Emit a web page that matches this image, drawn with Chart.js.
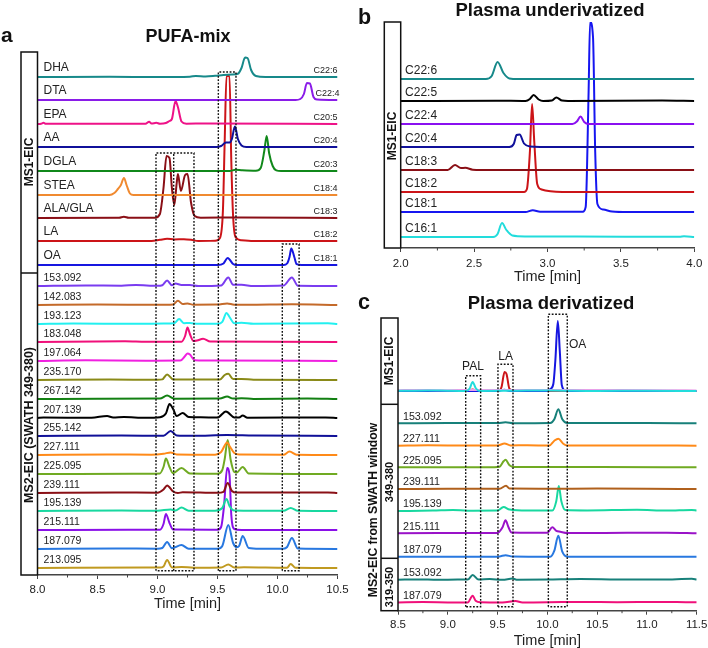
<!DOCTYPE html>
<html>
<head>
<meta charset="utf-8">
<script src="https://cdn.jsdelivr.net/npm/chart.js@4"></script>
<style>
    html, body { margin: 0; padding: 0; background: #fff; }
    #wrap { position: relative; width: 708px; height: 648px; overflow: hidden; }
    canvas { position: absolute; }
</style>
</head>
<body>
<div id="wrap">
    <canvas id="chartA" width="355" height="648" style="left:0;top:0"></canvas>
    <canvas id="chartB" width="353" height="290" style="left:355px;top:0"></canvas>
    <canvas id="chartC" width="360" height="363" style="left:355px;top:285px"></canvas>
</div>
<script>
// *************** panel a : PUFA-mix  [time, intensity]
const aDHA = [[8,0],[8.6,0.2],[9.0,0],[9.27,0.3],[9.32,1],[9.4,0.6],[9.48,1.2],[9.55,2],[9.62,2.5],[9.67,3.2],[9.7,9],[9.73,19.5],[9.75,19],[9.78,7],[9.82,1],[9.9,0],[10.5,0]];
const aDTA = [[8,0],[10.15,0],[10.19,1],[10.22,6],[10.245,17],[10.27,16.5],[10.3,3],[10.33,0.5],[10.5,0]];
const aEPA = [[8,0],[8.03,0.3],[8.05,1.2],[8.07,0.2],[8.5,0.2],[8.9,0.2],[8.93,2.2],[8.95,0.4],[8.99,1.2],[9.02,0.3],[9.07,1],[9.1,3],[9.12,5],[9.15,23],[9.17,17],[9.2,2.5],[9.24,0.3],[9.4,0.6],[10.5,0]];
const aAA = [[8,0],[9.49,0],[9.53,1],[9.57,4.5],[9.6,4.5],[9.62,8],[9.645,20.5],[9.67,8],[9.7,1.5],[9.74,0],[10.5,0]];
const aDGLA = [[8,0],[9.6,0],[9.65,1.2],[9.7,0.8],[9.82,0.3],[9.86,3],[9.89,20],[9.91,35],[9.93,18],[9.96,5],[9.99,0.6],[10.03,0],[10.5,0]];
const aSTEA = [[8,0],[8.6,0],[8.64,2],[8.67,6],[8.695,10],[8.72,17],[8.745,9],[8.77,1.5],[8.8,0],[10.5,0]];
const aALA = [[8,0],[8.68,0.2],[8.72,1.2],[8.76,0.2],[8.98,0.3],[9.02,4],[9.05,30],[9.075,62],[9.1,60],[9.12,30],[9.14,13],[9.16,35],[9.17,44],[9.195,27],[9.23,43],[9.25,44],[9.28,15],[9.31,2],[9.36,0.3],[9.7,0.6],[10.5,0]];
const aLA = [[8,0],[8.95,0],[9.02,1.2],[9.08,2.2],[9.14,1.6],[9.22,1.8],[9.28,1.2],[9.34,0],[9.48,0.2],[9.52,3],[9.545,30],[9.56,100],[9.575,165],[9.6,165],[9.615,80],[9.63,25],[9.65,4],[9.7,0.8],[9.8,0],[10.5,0]];
const aOA = [[8,0],[9.5,0],[9.55,1.5],[9.585,7],[9.63,1],[9.66,0],[10.05,0],[10.08,1.5],[10.1,8],[10.115,16.5],[10.14,8],[10.16,0.8],[10.2,0],[10.5,0]];
const a153 = [[8,0],[8.4,0.6],[8.7,0.3],[8.82,1],[9,0.2],[9.04,0.8],[9.08,5.5],[9.12,0.8],[9.15,2.4],[9.2,1],[9.27,1],[9.34,0],[9.53,0.5],[9.59,8.5],[9.63,1.2],[9.7,1.2],[9.8,0],[10.05,0.4],[10.12,8.5],[10.17,0.2],[10.5,0]];
const a142 = [[8,0],[8.5,0.4],[9,0.3],[9.13,0.6],[9.17,4.2],[9.21,1],[9.25,1.4],[9.3,0.3],[9.5,0.4],[9.58,1.6],[9.64,0.3],[9.75,0.2],[10.12,0.7],[10.5,0]];
const a193 = [[8,0],[8.3,0.4],[8.8,0.2],[9.05,0.4],[9.14,0.8],[9.18,5],[9.22,0.8],[9.27,1],[9.34,0.2],[9.5,0.3],[9.54,2.2],[9.575,11],[9.6,7],[9.64,0.8],[9.7,1.2],[9.8,0.2],[10.42,0.7],[10.5,0]];
const a183 = [[8,0],[8.73,0.8],[8.9,0.3],[9.2,0.2],[9.23,6],[9.25,14.5],[9.27,8],[9.3,1],[9.33,1.5],[9.38,3.2],[9.44,0.4],[10.5,0]];
const a197 = [[8,0],[8.4,0.7],[8.9,0.3],[9.19,0.4],[9.23,5],[9.25,7.5],[9.27,6.5],[9.31,0.8],[9.5,0.5],[10.5,0]];
const a235 = [[8,0],[8.6,0.5],[9,0.2],[9.04,0.6],[9.08,5.6],[9.13,0.6],[9.3,0.5],[9.52,0.5],[9.56,5],[9.59,6.2],[9.63,1],[9.7,1],[9.8,0.3],[10.5,0]];
const a267 = [[8,0],[8.5,0.2],[9.02,0.4],[9.08,3.5],[9.14,0.3],[9.52,0.5],[9.58,2.5],[9.63,0.4],[9.7,0.8],[9.8,0],[10.25,0.5],[10.5,0]];
const a207 = [[8,0],[8.05,0.4],[8.45,0.3],[8.58,2],[8.63,0.5],[8.72,1],[8.9,0.2],[9.02,0.8],[9.07,4.5],[9.1,14],[9.13,9],[9.16,2],[9.21,5],[9.26,1],[9.36,0.8],[9.5,0.4],[9.57,6.5],[9.64,0.6],[9.68,0.4],[9.71,2.5],[9.75,0.3],[10.4,0.5],[10.5,0]];
const a255 = [[8,0],[8.7,0.4],[9.05,0.2],[9.11,5],[9.16,0.6],[9.3,0.2],[9.58,1],[9.8,0.5],[10.5,0]];
const a227 = [[8,0],[8.58,0.5],[8.95,0.3],[9.05,1.2],[9.11,2.6],[9.16,0.5],[9.48,0.3],[9.53,3],[9.58,12.5],[9.6,9],[9.64,2],[9.68,0.4],[10.05,0.2],[10.1,3.5],[10.16,0.2],[10.5,0]];
const a225 = [[8,0],[8.8,0.2],[9.02,0.6],[9.05,7],[9.07,15.5],[9.1,7],[9.13,0.8],[9.2,6],[9.27,0.5],[9.5,0.3],[9.54,4],[9.56,15],[9.585,34],[9.61,14],[9.64,2],[9.66,1.5],[9.71,7],[9.76,0.5],[10.5,0]];
const a239 = [[8,0],[8.65,0.5],[9,0.3],[9.05,3.5],[9.08,7.5],[9.13,1.5],[9.17,0],[9.21,0.8],[9.5,0.2],[9.55,1.2],[9.585,10],[9.62,2],[9.66,0.4],[10.42,0.5],[10.5,0]];
const a195 = [[8,0],[8.7,0.4],[9,0.3],[9.11,1.5],[9.15,0.4],[9.2,3.5],[9.26,0.3],[9.48,0.3],[9.54,3],[9.575,12],[9.6,5],[9.64,0.5],[10.05,0.2],[10.11,3],[10.17,0.2],[10.5,0]];
const a215 = [[8,0],[8.75,0.2],[9.02,0.3],[9.05,6],[9.07,16],[9.1,7],[9.13,0.4],[9.5,0.3],[9.53,3],[9.555,25],[9.58,62],[9.6,55],[9.615,15],[9.64,1],[9.7,0],[10.5,0]];
const a187 = [[8,0],[8.65,0.5],[9,0.3],[9.04,1],[9.08,7],[9.12,0.8],[9.2,4],[9.26,0.3],[9.5,0.2],[9.54,3],[9.59,24],[9.63,6],[9.66,1.8],[9.68,3],[9.71,13],[9.76,1],[9.85,0.2],[10.05,0.2],[10.08,2],[10.12,11],[10.17,0.4],[10.5,0]];
const a213 = [[8,0],[8.9,0.6],[9.02,0.4],[9.05,1.5],[9.08,8],[9.12,0.6],[9.2,1],[9.3,0.3],[9.53,0.5],[9.59,3.5],[9.64,0.4],[9.72,0.7],[10.08,0.2],[10.11,4],[10.15,0.2],[10.5,0]];

const aSeries = [aDHA, aDTA, aEPA, aAA, aDGLA, aSTEA, aALA, aLA, aOA, a153, a142, a193, a183, a197, a235, a267, a207, a255, a227, a225, a239, a195, a215, a187, a213];
const aNames = ['DHA', 'DTA', 'EPA', 'AA', 'DGLA', 'STEA', 'ALA/GLA', 'LA', 'OA', '153.092', '142.083', '193.123', '183.048', '197.064', '235.170', '267.142', '207.139', '255.142', '227.111', '225.095', '239.111', '195.139', '215.111', '187.079', '213.095'];
const aChains = ['C22:6', 'C22:4', 'C20:5', 'C20:4', 'C20:3', 'C18:4', 'C18:3', 'C18:2', 'C18:1'];
const aOffsets = [498, 475, 451, 428, 404, 380, 357, 334, 310, 289, 270, 251, 233, 214, 195, 176, 157, 139, 120, 101, 82, 64, 45, 26, 7];
const aColors = ['#17898a', '#8a1ce8', '#ee1288', '#10109a', '#10881a', '#f08a30', '#8a0f16', '#cc1418', '#1616e0', '#7a3cf0', '#c46a2a', '#22f0f0', '#f0107a', '#f020e0', '#8a8a18', '#128012', '#000000', '#101098', '#ff8a18', '#70aa22', '#8a1016', '#18d8a0', '#8a10e8', '#2878e0', '#c09a20'];
const aTicks = [8.0, 8.5, 9.0, 9.5, 10.0, 10.5];
const aBoxes = [
    [[8.9875, 4.3], [8.9875, 422], [9.304, 422], [9.304, 4.3], [8.9875, 4.3]],
    [[9.135, 4.3], [9.135, 422]],
    [[9.507, 4.3], [9.507, 503], [9.654, 503], [9.654, 4.3], [9.507, 4.3]],
    [[10.04, 4.3], [10.04, 331], [10.18, 331], [10.18, 4.3], [10.04, 4.3]]
];

// *************** panel b : Plasma underivatized
const b226 = [[2,0],[2.58,0],[2.62,3],[2.66,17],[2.7,6],[2.74,0.6],[2.8,0],[4,0]];
const b225 = [[2,0],[2.65,0.3],[2.85,0],[2.88,2],[2.905,6],[2.94,1.5],[2.97,0],[3.03,0.5],[3.06,3.5],[3.1,0.4],[3.14,0],[3.78,0.4],[4,0]];
const b224 = [[2,0],[3.17,0],[3.2,2.5],[3.225,7.5],[3.25,2],[3.28,0],[4,0]];
const b204 = [[2,0],[2.74,0],[2.77,3],[2.79,12],[2.81,12.5],[2.84,3.5],[2.88,0.4],[2.95,0],[4,0]];
const b183 = [[2,0],[2.32,0],[2.37,5],[2.41,2],[2.44,2.2],[2.49,0.3],[2.55,0],[4,0]];
const b182 = [[2,0],[2.84,0],[2.86,3],[2.88,40],[2.895,88],[2.91,50],[2.93,8],[2.96,2.5],[3.02,0.7],[3.1,0],[4,0]];
const b181 = [[2,0],[2.85,0],[2.9,1.8],[2.95,0.3],[3.24,0.3],[3.26,5],[3.28,120],[3.29,190],[3.31,175],[3.325,60],[3.34,8],[3.38,2.5],[3.44,0.5],[3.55,0],[4,0]];
const b161 = [[2,0],[2.63,0],[2.66,3],[2.69,14],[2.72,7],[2.76,1.5],[2.85,0.6],[3.2,0.5],[3.9,0.2],[3.93,0.8],[4,0]];

const bSeries = [b226, b225, b224, b204, b183, b182, b181, b161];
const bNames = ['C22:6', 'C22:5', 'C22:4', 'C20:4', 'C18:3', 'C18:2', 'C18:1', 'C16:1'];
const bOffsets = [169, 147, 124, 101, 78, 56, 36, 11];
const bColors = ['#17898a', '#000000', '#8a10f0', '#10109a', '#8a0f16', '#cc1418', '#1616f0', '#22dcdc'];
const bTicks = [2.0, 2.5, 3.0, 3.5, 4.0];

// *************** panel c : Plasma derivatized
const cPAL = [[8.5,0.2],[8.8,0.6],[9,0.2],[9.18,0],[9.22,2.5],[9.25,9],[9.28,3],[9.32,0],[9.7,0.3],[10,0.5],[10.5,0],[11,0.3],[11.5,0]];
const cMag = [[8.5,0.8],[8.7,1],[8.9,0.8],[9.1,0.9],[9.5,1],[9.7,0.9],[9.9,1],[10.3,0.9],[10.7,0.9],[11.2,0.8],[11.5,0.6]];
const cOAm = [[8.5,0],[9.5,0],[9.57,1.2],[9.62,0],[10,0],[10.03,2],[10.06,7],[10.08,30],[10.105,70],[10.125,40],[10.145,6],[10.18,0.5],[10.22,0],[11.5,0]];
const cLAm = [[8.5,0],[9.2,0],[9.25,1.5],[9.3,0],[9.51,0],[9.54,4],[9.57,19],[9.59,17],[9.62,2],[9.66,0.6],[9.72,0],[11.5,0]];
const c153 = [[8.5,0],[9,0.3],[9.5,0.3],[9.58,1],[9.66,0],[10.03,0.2],[10.07,4],[10.11,14],[10.15,4],[10.2,0.3],[11,0.2],[11.5,0]];
const c227 = [[8.5,0],[8.8,0.4],[9.2,0.2],[9.5,0.3],[9.57,2.2],[9.63,0.3],[9.8,0.4],[10.02,0.2],[10.07,5],[10.11,7],[10.16,2],[10.2,0.2],[10.9,0.3],[11.5,0]];
const c225 = [[8.5,0],[9.4,0],[9.52,0.6],[9.56,6],[9.58,7.5],[9.62,2],[9.67,0.2],[10.5,0.2],[11.5,0]];
const c239 = [[8.5,0],[9,0.3],[9.3,0.3],[9.52,0.2],[9.585,3.2],[9.62,0.4],[10,0.3],[10.5,0.4],[11,0.3],[11.5,0]];
const c195 = [[8.5,0],[8.85,0.4],[9.05,1],[9.2,0.3],[9.5,0.4],[9.56,4],[9.62,1.5],[9.8,0.5],[10.05,0.5],[10.09,10],[10.115,25],[10.14,10],[10.18,1],[10.4,0.6],[10.9,1.3],[11.2,0.4],[11.45,1],[11.5,0.5]];
const c215 = [[8.5,0],[8.9,0.2],[9.3,0.4],[9.5,0.4],[9.55,6],[9.58,13],[9.61,6],[9.64,0.8],[9.85,0.6],[10,0.6],[10.05,6],[10.09,2.5],[10.13,1.6],[10.2,0.3],[10.8,0.5],[11.2,0.6],[11.5,0]];
const c187 = [[8.5,0],[9.4,0],[9.52,0.3],[9.58,1.5],[9.65,0.2],[10.03,0],[10.07,6],[10.11,21],[10.15,5],[10.2,0],[11.5,0]];
const c153b = [[8.5,0.3],[8.7,0.6],[8.9,0.2],[9.1,0.5],[9.2,0.4],[9.25,5],[9.31,0.4],[9.42,1],[9.55,0.2],[9.65,1.4],[9.7,0.2],[10,0.4],[10.33,1],[10.7,0.6],[11.15,0.5],[11.45,1.2],[11.5,0.5]];
const c187b = [[8.5,0.3],[8.75,0.6],[9,0.3],[9.2,0.2],[9.25,7],[9.28,2],[9.33,0.5],[9.55,0.3],[9.68,1.6],[9.75,0.2],[10.15,0.6],[10.35,0.8],[10.7,0.5],[11.05,0.7],[11.3,0.8],[11.5,0.4]];

const cSeries = [cPAL, cMag, cOAm, cLAm, c153, c227, c225, c239, c195, c215, c187, c153b, c187b];
const cNames = ['', '', '', '', '153.092', '227.111', '225.095', '239.111', '195.139', '215.111', '187.079', '153.092', '187.079'];
const cOffsets = [219.7, 219.7, 219.7, 219.7, 187.4, 165, 143.4, 121.7, 99.7, 77.4, 54, 30.7, 8];
const cColors = ['#22dcdc', '#e8a0e8', '#1616e0', '#cc1418', '#17807a', '#ff8a18', '#70aa22', '#b0601c', '#18d8a0', '#9a12c8', '#2878e0', '#17807a', '#f0107a'];
const cTicks = [8.5, 9.0, 9.5, 10.0, 10.5, 11.0, 11.5];
const cBoxes = [
    [[9.18, 4], [9.18, 235], [9.33, 235], [9.33, 4], [9.18, 4]],
    [[9.504, 4], [9.504, 246.4], [9.655, 246.4], [9.655, 4], [9.504, 4]],
    [[10.01, 4], [10.01, 296.4], [10.2, 296.4], [10.2, 4], [10.01, 4]]
];

const BLACK = '#111';
const AXIS = '#444';

function drawText(ctx, text, x, y, font, align, angle, color) {
    ctx.save();
    ctx.translate(x, y);
    if (angle) ctx.rotate(angle);
    ctx.font = font;
    ctx.fillStyle = color || '#222';
    ctx.textAlign = align || 'left';
    ctx.textBaseline = 'middle';
    ctx.fillText(text, 0, 0);
    ctx.restore();
}

// frame on the left, minor ticks, and all the text inside a panel
function panelPlugin(cfg) {
    return {
        id: 'panelExtras',
        afterDraw: function (chart) {
            let ctx = chart.ctx;
            let xs = chart.scales.x;
            let ys = chart.scales.y;
            let area = chart.chartArea;
            let top = ys.getPixelForValue(cfg.frameTop);

            ctx.save();
            ctx.strokeStyle = BLACK;
            ctx.lineWidth = 1.5;
            ctx.strokeRect(area.left - cfg.frameWidth, top, cfg.frameWidth, area.bottom - top);
            cfg.dividers.forEach(function (d) {
                let py = ys.getPixelForValue(d);
                ctx.beginPath();
                ctx.moveTo(area.left - cfg.frameWidth, py);
                ctx.lineTo(area.left, py);
                ctx.stroke();
            });
            ctx.strokeStyle = AXIS;
            ctx.lineWidth = 1;
            for (let i = 0; i < cfg.ticks.length - 1; i++) {
                let px = xs.getPixelForValue((cfg.ticks[i] + cfg.ticks[i + 1]) / 2);
                ctx.beginPath();
                ctx.moveTo(px, area.bottom);
                ctx.lineTo(px, area.bottom + 2.5);
                ctx.stroke();
            }
            ctx.restore();

            cfg.names.forEach(function (name, i) {
                if (!name) return;
                let isMass = /^\d/.test(name);
                let font = (isMass ? cfg.massSize : cfg.nameSize) + 'px "Liberation Sans"';
                let lift = isMass ? cfg.massLift : cfg.nameLift;
                drawText(ctx, name, xs.getPixelForValue(cfg.nameX), ys.getPixelForValue(cfg.offsets[i] + lift), font);
            });
            (cfg.chains || []).forEach(function (name, i) {
                let shift = name === 'C22:4' ? 2 : 0;
                drawText(ctx, name, area.right + shift, ys.getPixelForValue(cfg.offsets[i] + 6), '9px "Liberation Sans"', 'right');
            });
            cfg.texts.forEach(function (t) {
                drawText(ctx, t[0], t[1], t[2], t[3], t[4], t[5], t[6]);
            });
        }
    };
}

function buildDatasets(cfg) {
    let sets = [];
    (cfg.boxes || []).forEach(function (box) {
        sets.push({
            data: box.map(function (p) { return { x: p[0], y: p[1] }; }),
            borderColor: BLACK,
            borderWidth: 1.4,
            borderDash: [1.8, 1.6],
            pointRadius: 0,
            fill: false
        });
    });
    cfg.series.forEach(function (pts, i) {
        sets.push({
            data: pts.map(function (p) { return { x: p[0], y: p[1] + cfg.offsets[i] }; }),
            borderColor: cfg.colors[i],
            borderWidth: 2,
            pointRadius: 0,
            fill: false,
            cubicInterpolationMode: 'monotone'
        });
    });
    return sets;
}

function makePanel(id, cfg) {
    return new Chart(document.getElementById(id).getContext('2d'), {
        type: 'line',
        data: { datasets: buildDatasets(cfg) },
        plugins: [panelPlugin(cfg)],
        options: {
            responsive: false,
            animation: false,
            devicePixelRatio: 1,
            layout: { padding: cfg.padding },
            plugins: { legend: { display: false }, tooltip: { enabled: false } },
            scales: {
                x: {
                    type: 'linear',
                    min: cfg.ticks[0],
                    max: cfg.ticks[cfg.ticks.length - 1],
                    afterFit: function (scale) { scale.height = cfg.axisHeight; },
                    afterBuildTicks: function (scale) {
                        scale.ticks = cfg.ticks.map(function (v) { return { value: v }; });
                    },
                    border: { display: true, color: AXIS, width: 1.5 },
                    grid: { drawOnChartArea: false, drawTicks: true, tickLength: 4, tickColor: AXIS, tickWidth: 1 },
                    ticks: {
                        padding: cfg.tickPad,
                        maxRotation: 0,
                        autoSkip: false,
                        color: '#222',
                        font: { family: 'Liberation Sans', size: 11.5 },
                        callback: function (v) { return Number(v).toFixed(1); }
                    },
                    title: {
                        display: true,
                        text: 'Time [min]',
                        color: '#222',
                        font: { family: 'Liberation Sans', size: 14.5, lineHeight: 1 },
                        padding: { top: 0, bottom: cfg.titlePad }
                    }
                },
                y: { type: 'linear', display: false, min: 0, max: cfg.yMax }
            }
        }
    });
}

const BOLD12 = 'bold 12px "Liberation Sans"';
const UP = -Math.PI / 2;

makePanel('chartA', {
    series: aSeries, names: aNames, chains: aChains, offsets: aOffsets, colors: aColors,
    ticks: aTicks, boxes: aBoxes, yMax: 523, frameTop: 523, frameWidth: 16.5, dividers: [302],
    padding: { left: 37.5, right: 17.5, top: 52, bottom: 0 }, axisHeight: 73, titlePad: 36.5, tickPad: 4,
    nameX: 8.05, nameSize: 12, nameLift: 9, massSize: 10.5, massLift: 8,
    texts: [
        ['a', 1, 36, 'bold 21px "Liberation Sans"', 'left', 0, '#111'],
        ['PUFA-mix', 188, 37, 'bold 18px "Liberation Sans"', 'center', 0, '#111'],
        ['MS1-EIC', 29.5, 162, BOLD12, 'center', UP, '#111'],
        ['MS2-EIC (SWATH 349-380)', 29.5, 425, 'bold 12.5px "Liberation Sans"', 'center', UP, '#111']
    ]
});

makePanel('chartB', {
    series: bSeries, names: bNames, offsets: bOffsets, colors: bColors,
    ticks: bTicks, yMax: 226, frameTop: 226, frameWidth: 16.4, dividers: [],
    padding: { left: 45.7, right: 13.7, top: 22, bottom: 0 }, axisHeight: 42, titlePad: 5.5, tickPad: 5,
    nameX: 2.03, nameSize: 12, nameLift: 8, massSize: 11, massLift: 8,
    texts: [
        ['b', 3, 18, 'bold 21.5px "Liberation Sans"', 'left', 0, '#111'],
        ['Plasma underivatized', 195, 11, 'bold 18.5px "Liberation Sans"', 'center', 0, '#111'],
        ['MS1-EIC', 38, 136, BOLD12, 'center', UP, '#111']
    ]
});

makePanel('chartC', {
    series: cSeries, names: cNames, offsets: cOffsets, colors: cColors,
    ticks: cTicks, boxes: cBoxes, yMax: 300.7, frameTop: 292.7, frameWidth: 17, dividers: [206.4, 52.4],
    padding: { left: 43, right: 18.3, top: 25, bottom: 0 }, axisHeight: 37.3, titlePad: 0, tickPad: 3,
    nameX: 8.55, nameSize: 12, nameLift: 7, massSize: 10.7, massLift: 6.6,
    texts: [
        ['c', 3, 18, 'bold 21.5px "Liberation Sans"', 'left', 0, '#111'],
        ['Plasma derivatized', 196, 19, 'bold 18.5px "Liberation Sans"', 'center', 0, '#111'],
        ['MS1-EIC', 35, 76, BOLD12, 'center', UP, '#111'],
        ['MS2-EIC from SWATH window', 19, 225, 'bold 12.2px "Liberation Sans"', 'center', UP, '#111'],
        ['349-380', 35, 197, 'bold 11px "Liberation Sans"', 'center', UP, '#111'],
        ['319-350', 35, 302, 'bold 11px "Liberation Sans"', 'center', UP, '#111'],
        ['PAL', 118, 81.7, '12px "Liberation Sans"', 'center', 0],
        ['LA', 150.7, 71.7, '12px "Liberation Sans"', 'center', 0],
        ['OA', 214, 60, '12px "Liberation Sans"', 'left', 0]
    ]
});
</script>
</body>
</html>
